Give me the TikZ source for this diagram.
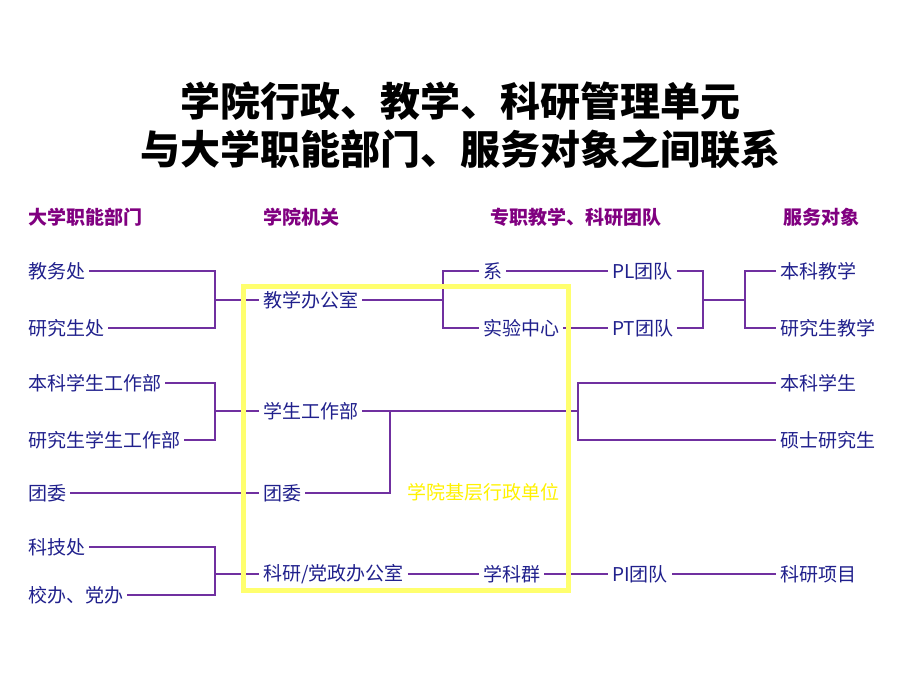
\documentclass[tikz,border=0pt]{standalone}
\usepackage{fontspec}
\newfontfamily\cjk{Noto Sans CJK SC}
\definecolor{txtblue}{RGB}{32,32,140}
\definecolor{headpurple}{RGB}{128,0,128}
\definecolor{linkpurple}{RGB}{112,48,160}
\definecolor{boxyellow}{RGB}{255,255,110}
\newcommand{\colL}{24}
\newcommand{\colM}{259}
\newcommand{\colT}{479}
\newcommand{\colP}{608}
\newcommand{\colR}{776}
\tikzset{
	unit/.style={anchor=west, text=txtblue, inner xsep=4pt, inner ysep=0pt, font=\cjk\fontsize{19}{19}\selectfont},
	head/.style={anchor=west, text=headpurple, inner sep=0pt, font=\cjk\bfseries\fontsize{19}{19}\selectfont},
	link/.style={draw=linkpurple, line width=1.4pt},
}
\begin{document}
\begin{tikzpicture}[x=1pt,y=-1pt]
	\useasboundingbox (0,0) rectangle (920,690);

	\node[font=\cjk\bfseries\fontsize{40}{48}\selectfont, align=center, inner sep=0pt] (title) at (460,125) {学院行政、教学、科研管理单元\\与大学职能部门、服务对象之间联系};

	\foreach \n/\x/\t in {hd1/28/大学职能部门,hd2/263/学院机关,hd3/490/专职教学、科研团队,hd4/783/服务对象}
	{
		\node[head] (\n) at (\x,217) {\t};
	}

	\foreach \n/\y/\t in {jwc/271/教务处,yjsc/328/研究生处,bkxg/383/本科学生工作部,yjxg/440/研究生学生工作部,twl/493/团委,kjc/547/科技处,xb/595/校办、党办}
	{
		\node[unit] (\n) at (\colL,\y) {\t};
	}

	\foreach \n/\y/\t in {jxbgs/300/教学办公室,xsgzb/411/学生工作部,twm/493/团委,kybgs/574/{科研/党政办公室}}
	{
		\node[unit] (\n) at (\colM,\y) {\t};
	}

	\node[unit] (xi) at (\colT,271) {系};
	\node[unit] (syzx) at (\colT,328) {实验中心};
	\node[unit] (xkq) at (\colT,574) {学科群};
	\node[unit] (pl) at (\colP,271) {PL团队};
	\node[unit] (pt) at (\colP,328) {PT团队};
	\node[unit] (pi) at (\colP,574) {PI团队};

	\foreach \n/\y/\t in {bkjx/271/本科教学,yjsjx/328/研究生教学,bkxs/383/本科学生,ssyjs/440/硕士研究生,kyxm/574/科研项目}
	{
		\node[unit] (\n) at (\colR,\y) {\t};
	}

	\coordinate (b1) at (215,300);
	\coordinate (b2) at (443,300);
	\coordinate (b3) at (703,300);
	\coordinate (b4) at (745,300);
	\coordinate (b5) at (215,411);
	\coordinate (b6) at (578,411);
	\coordinate (b7) at (390,411);
	\coordinate (b8) at (215,574);

	\draw[link] (jwc.east) -| (b1) |- (yjsc.east);
	\draw[link] (b1) -- (jxbgs.west);
	\draw[link] (jxbgs.east) -- (b2);
	\draw[link] (xi.west) -| (b2) |- (syzx.west);
	\draw[link] (xi.east) -- (pl.west);
	\draw[link] (syzx.east) -- (pt.west);
	\draw[link] (pl.east) -| (b3) |- (pt.east);
	\draw[link] (b3) -- (b4);
	\draw[link] (bkjx.west) -| (b4) |- (yjsjx.west);

	\draw[link] (bkxg.east) -| (b5) |- (yjxg.east);
	\draw[link] (b5) -- (xsgzb.west);
	\draw[link] (xsgzb.east) -- (b6);
	\draw[link] (bkxs.west) -| (b6) |- (ssyjs.west);
	\draw[link] (twm.east) -| (b7);
	\draw[link] (twl.east) -- (twm.west);

	\draw[link] (kjc.east) -| (b8) |- (xb.east);
	\draw[link] (b8) -- (kybgs.west);
	\draw[link] (kybgs.east) -- (xkq.west);
	\draw[link] (xkq.east) -- (pi.west);
	\draw[link] (pi.east) -- (kyxm.west);

	\draw[boxyellow, line width=5pt] (243,286) rectangle (568,590);
	\node[unit, text=yellow, inner xsep=0pt] (jclabel) at (407,492) {学院基层行政单位};

\end{tikzpicture}
\end{document}
